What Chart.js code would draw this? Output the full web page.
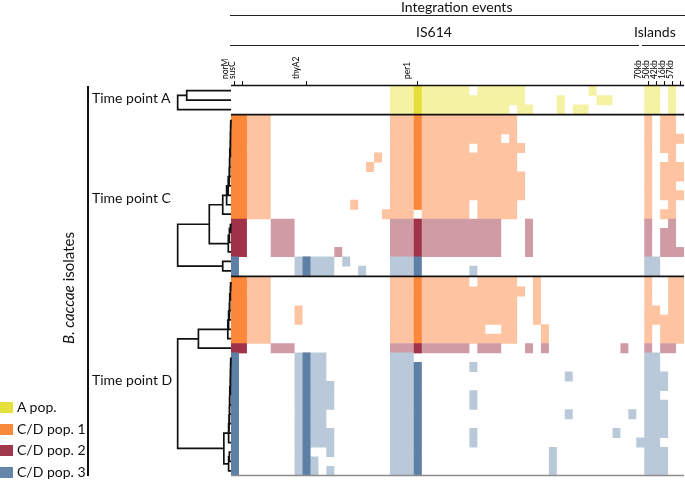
<!DOCTYPE html>
<html>
<head>
<meta charset="utf-8">
<script src="https://cdn.jsdelivr.net/npm/chart.js@4.4.0/dist/chart.umd.min.js"></script>
<style>
  body { margin: 0; background: #fff; font-family: Lato, "Open Sans", sans-serif; color: #111; }
  #wrap { position: relative; width: 685px; height: 480px; overflow: hidden; }
  #heatmap { position: absolute; left: 0; top: 0; }
  .lbl { position: absolute; white-space: nowrap; font-size: 14px; line-height: 14px; }
  .rule { position: absolute; height: 0; border-top: 1.5px solid #222; }
  .swatch { position: absolute; left: 0; width: 13px; height: 11px; }
</style>
</head>
<body>
<div id="wrap">
  <canvas id="heatmap" width="685" height="480"></canvas>

  <div class="lbl" style="left:401px;top:0px">Integration events</div>
  <div class="rule" style="left:230px;top:15px;width:455px"></div>
  <div class="lbl" style="left:416px;top:25px">IS614</div>
  <div class="lbl" style="left:634px;top:25px">Islands</div>
  <div class="rule" style="left:230px;top:45px;width:409px"></div>
  <div class="rule" style="left:642px;top:45px;width:43px"></div>

  <div class="lbl" style="left:92px;top:91px">Time point A</div>
  <div class="lbl" style="left:92px;top:191px">Time point C</div>
  <div class="lbl" style="left:92px;top:373px">Time point D</div>
  <div class="lbl" style="left:68px;top:288px;font-size:15px;transform:translate(-50%,-50%) rotate(-90deg)"><i>B. caccae</i> isolates</div>
  <div style="position:absolute;left:87px;top:86px;width:2px;height:390px;background:#111"></div>
  <div id="legend"></div>
</div>

<script>
// ------------------------------------------------------------
// data
// ------------------------------------------------------------

// columns = integration sites, only some of them are labelled
const nCols = 57;
const tickCols = [0, 1, 9, 23, 52, 53, 54, 55, 56];
const tickLabels = ["norM", "susC", "thyA2", "per1", "70kb", "50kb", "42kb", "16kb", "57kb"];

const popNames = ["A pop.", "C/D pop. 1", "C/D pop. 2", "C/D pop. 3"];
const popSolid = ["#e4e03c", "#f98a3c", "#a1384b", "#6685aa"];
const popLight = ["#f6f2a3", "#fec4a1", "#cf9ba5", "#b9c9d9"];
const popDark = ["#e6df3a", "#fb8838", "#a0334a", "#5f80a6"];

// one string per isolate, '.' = absent, 'o' = present, 'X' = present (dark column)
// spaces are only there to count columns in groups of ten
const rowsA = [
  ".......... .......... oooXoooooo .oooooo... .....o.... ..oo.o.",
  ".......... .......... oooXoooooo ooooooo... .o....oo.. ..oo.o.",
  ".......... .......... oooXoooooo ooooo.oo.. .o.oo..... ..oo.o."
];
const popsA = [0, 0, 0];

const rowsC = [
  "XXooo..... .......... oooXoooooo oooooo.... .......... ..o.oo.",
  "XXooo..... .......... oooXoooooo oooooo.... .......... ..o.oo.",
  "XXooo..... .......... oooXoooooo oooo.o.... .......... ..o.ooo",
  "XXooo..... .......... oooXoooooo .oooooo... .......... ..o.oo.",
  "XXooo..... ........o. oooXoooooo oooooo.... .......... ..o..o.",
  "XXooo..... .......o.. oooXoooooo oooooo.... .......... ..o.ooo",
  "XXooo..... .......... oooXoooooo ooooooo... .......... ..o.ooo",
  "XXooo..... .......... oooXoooooo ooooooo... .......... ..o.oo.",
  "XXooo..... .......... oooXoooooo ooooooo... .......... ..o.ooo",
  "XXooo..... .....o.... oooXoooooo .ooooo.... .......... ..o..o.",
  "XXooo..... .........o ooo.oooooo .ooooo.... .......... ..o.oo.",
  "XX...ooo.. .......... oooXoooooo oooo...o.. .......... ..o..o.",
  "XX...ooo.. .......... oooXoooooo oooo...o.. .......... ..o.oo.",
  "XX...ooo.. .......... oooXoooooo oooo...o.. .......... ..o.oo.",
  "XX...ooo.. ...o...... oooXoooooo oooo...o.. .......... ..o.ooo",
  "X.......oX ooo.o..... oooX...... .......... .......... ..oo...",
  "X.......oX ooo...o... oooX...... o......... .......... ..oo..."
];
const popsC = [1, 1, 1, 1, 1, 1, 1, 1, 1, 1, 1, 2, 2, 2, 2, 3, 3];

const rowsD = [
  "XXooo..... .......... oooXoooooo .ooooo..o. .......... ..o..oo",
  "XXooo..... .......... oooXoooooo ooooooo.o. .......... ..o..oo",
  "XXooo..... .......... oooXoooooo oooooo..o. .......... ..o..oo",
  "XXooo...o. .......... oooXoooooo oooooo..o. .......... ..oo.oo",
  "XXooo...o. .......... oooXoooooo oooooo..o. .......... ..ooooo",
  "XXooo..... .......... oooXoooooo oo..oo...o .......... ..o.ooo",
  "XXooo..... .......... oooXoooooo oooooo...o .......... ..o.ooo",
  "XX...ooo.. .......... oooXoooooo .ooo...o.o .........o ..o.oo.",
  "X.......oX oo........ ooo....... .......... .......... ..oo...",
  "X.......oX oo........ oooX...... o......... .......... ..oo...",
  "X.......oX oo........ oooX...... .......... ..o....... ..ooo..",
  "X.......oX ooo....... oooX...... .......... .......... ..ooo..",
  "X.......oX ooo....... oooX...... o......... .......... ..oo...",
  "X.......oX ooo....... oooX...... o......... .......... ..ooo..",
  "X.......oX oo........ oooX...... .......... ..o....... o.ooo..",
  "X.......oX oo........ oooX...... .......... .......... ..ooo..",
  "X.......oX ooo....... oooX...... o......... ........o. ..ooo..",
  "X.......oX ooo....... oooX...... o......... .......... .ooo...",
  "X.......oX ..o....... oooX...... .......... o......... ..ooo..",
  "X.......oX o......... oooX...... .......... o......... ..ooo..",
  "X.......oX o.o....... oooX...... .......... o......... ..ooo.."
];
const popsD = [1, 1, 1, 1, 1, 1, 1, 2, 3, 3, 3, 3, 3, 3, 3, 3, 3, 3, 3, 3, 3];

// dendrograms: [left, right, height], leaves are row numbers inside the group
const treeA = [[0, 1, 5.57], 2, 6.71];
const treeC = [
  [
    [[[[[[[[[[0, 1, 0.05], 2, 0.08], 3, 0.1], 4, 0.12], 5, 0.15], 6, 0.18], 7, 0.22], 8, 0.35], 9, 0.55], 10, 1.04],
    [[[11, 12, 0.1], 13, 0.2], 14, 0.34],
    2.73
  ],
  [15, 16, 1.04],
  6.71
];
const treeD = [
  [[[[[[[0, 1, 0.08], 2, 0.12], 3, 0.16], 4, 0.2], 5, 0.3], 6, 0.4], 7, 4.1],
  [
    [[[[[[[[[8, 9, 0.05], 10, 0.08], 11, 0.1], 12, 0.12], 13, 0.15], 14, 0.18], 15, 0.2], 16, 0.25], 17, 0.3],
    [[18, 19, 0.2], 20, 0.3],
    0.9
  ],
  6.71
];

// ------------------------------------------------------------
// layout of the row axis (one unit per isolate)
// ------------------------------------------------------------
const groups = [
  { rows: rowsA, pops: popsA, tree: treeA, start: 0 },
  { rows: rowsC, pops: popsC, tree: treeC, start: 3.08 },
  { rows: rowsD, pops: popsD, tree: treeD, start: 20.27 }
];
const separators = [3.04, 20.175];
const yMax = 41.27;
const xMin = -7.675;

// ------------------------------------------------------------
// build cells (runs of present sites in a row become one floating bar)
// ------------------------------------------------------------
const lightCells = [];
const darkCells = [];

const addRuns = (str, test, y, pop, out) => {
  let start = -1;
  for (let c = 0; c <= str.length; c++) {
    const on = c < str.length && test(str[c]);
    if (on && start < 0) start = c;
    if (!on && start >= 0) {
      out.push({ x: [start, c], y: y, pop: pop });
      start = -1;
    }
  }
};

groups.forEach((g) => {
  g.rows.forEach((raw, r) => {
    const str = raw.replace(/ /g, "");
    const y = g.start + r + 0.5;
    addRuns(str, (ch) => ch !== ".", y, g.pops[r], lightCells);
    addRuns(str, (ch) => ch === "X", y, g.pops[r], darkCells);
  });
});

// dendrogram segments, one U per merge, null points break the line
const treeSegments = (node, yOf, out) => {
  if (typeof node === "number") return { y: yOf(node), h: 0 };
  const a = treeSegments(node[0], yOf, out);
  const b = treeSegments(node[1], yOf, out);
  const h = node[2];
  out.push({ x: -a.h, y: a.y }, { x: -h, y: a.y }, { x: -h, y: b.y }, { x: -b.h, y: b.y }, { x: null, y: null });
  return { y: (a.y + b.y) / 2, h: h };
};

const dendroPoints = [];
groups.forEach((g) => {
  treeSegments(g.tree, (leaf) => g.start + leaf + 0.5, dendroPoints);
});

const rulePoints = [];
separators.forEach((s) => {
  rulePoints.push({ x: 0, y: s }, { x: nCols, y: s }, { x: null, y: null });
});

const lineStyle = {
  type: "line",
  indexAxis: "x",
  pointRadius: 0,
  tension: 0,
  clip: false,
  spanGaps: false,
  borderJoinStyle: "miter",
  order: 0
};

// ------------------------------------------------------------
// chart
// ------------------------------------------------------------
const ctx = document.getElementById("heatmap").getContext("2d");
const heatmap = new Chart(ctx, {
  type: "bar",
  data: {
    datasets: [
      {
        label: "present",
        data: lightCells,
        backgroundColor: (c) => (c.raw ? popLight[c.raw.pop] : "#fff"),
        grouped: false,
        categoryPercentage: 1,
        barPercentage: 1.06,
        borderWidth: 0,
        order: 2
      },
      {
        label: "marker site",
        data: darkCells,
        backgroundColor: (c) => (c.raw ? popDark[c.raw.pop] : "#fff"),
        grouped: false,
        categoryPercentage: 1,
        barPercentage: 1.06,
        borderWidth: 0,
        order: 1
      },
      Object.assign({ label: "dendrogram", data: dendroPoints, borderColor: "#111", borderWidth: 1.7 }, lineStyle),
      Object.assign({ label: "groups", data: rulePoints, borderColor: "#111", borderWidth: 1.8 }, lineStyle),
      Object.assign({ label: "axis", data: [{ x: 0, y: -0.05 }, { x: nCols, y: -0.05 }], borderColor: "#111", borderWidth: 1.5 }, lineStyle),
      Object.assign({ label: "bottom", data: [{ x: 0, y: yMax }, { x: nCols, y: yMax }], borderColor: "#8c8c8c", borderWidth: 1.5 }, lineStyle)
    ]
  },
  options: {
    indexAxis: "y",
    responsive: false,
    animation: false,
    events: [],
    layout: { padding: { left: 170, right: 1, top: 45.06, bottom: 4.4 } },
    plugins: { legend: { display: false }, tooltip: { enabled: false } },
    scales: {
      x: {
        type: "linear",
        position: "top",
        min: xMin,
        max: nCols,
        afterFit: (scale) => {
          scale.height = 40;
        },
        afterBuildTicks: (scale) => {
          scale.ticks = tickCols.map((c) => ({ value: c + 0.5 }));
        },
        ticks: {
          autoSkip: false,
          minRotation: 90,
          maxRotation: 90,
          padding: 2,
          color: "#000",
          font: { family: "Lato", size: 8.5 },
          callback: (v) => tickLabels[tickCols.indexOf(v - 0.5)]
        },
        grid: { drawOnChartArea: false, drawTicks: true, tickLength: 4, color: "#111", lineWidth: 1 },
        border: { display: false }
      },
      y: {
        type: "linear",
        min: -0.1,
        max: yMax,
        reverse: true,
        offset: false,
        display: false
      }
    }
  }
});

// ------------------------------------------------------------
// legend
// ------------------------------------------------------------
const legend = document.getElementById("legend");
popNames.forEach((name, i) => {
  const sw = document.createElement("div");
  sw.className = "swatch";
  sw.style.top = 402 + i * 21.7 + "px";
  sw.style.background = popSolid[i];
  legend.appendChild(sw);
  const tx = document.createElement("div");
  tx.className = "lbl";
  tx.style.left = "17px";
  tx.style.top = 400 + i * 21.7 + "px";
  tx.textContent = name;
  legend.appendChild(tx);
});
</script>
</body>
</html>
